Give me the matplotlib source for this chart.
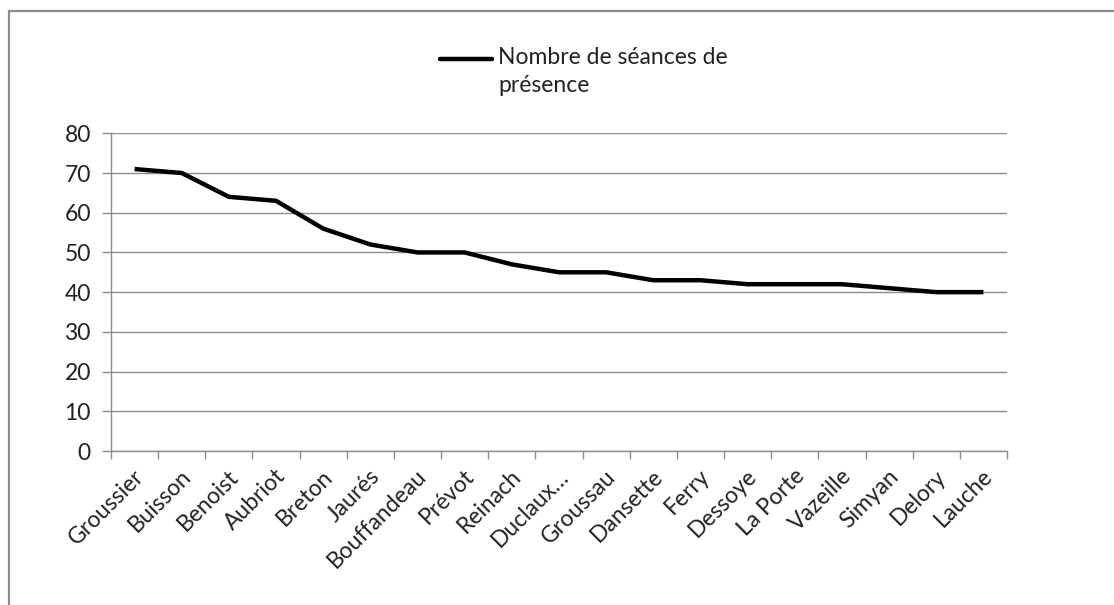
import matplotlib
matplotlib.use("Agg")
import matplotlib.pyplot as plt
import matplotlib.transforms as mtransforms
from matplotlib.lines import Line2D
from matplotlib.patches import Rectangle
import numpy as np

deputes = ["Groussier", "Buisson", "Benoist", "Aubriot", "Breton", "Jaurés",
           "Bouffandeau", "Prévot", "Reinach", "Duclaux…", "Groussau", "Dansette",
           "Ferry", "Dessoye", "La Porte", "Vazeille", "Simyan", "Delory", "Lauche"]
seances = [71, 70, 64, 63, 56, 52, 50, 50, 47, 45, 45, 43, 43, 42, 42, 42, 41, 40, 40]
serie_label = "Nombre de séances de\nprésence"
y_ticks = [0, 10, 20, 30, 40, 50, 60, 70, 80]

W, H, DPI = 1114, 605, 100
GRID = "#8c8c8c"
TEXT = "#222222"
FONT = "Lato"
FS = 16.5

plt.rcParams["font.family"] = [FONT, "DejaVu Sans"]

fig = plt.figure(figsize=(W / DPI, H / DPI), dpi=DPI)
fig.patch.set_facecolor("white")

left, right = 111 / W, 1007 / W
bottom, top = 1 - 451 / H, 1 - 133.3 / H
ax = fig.add_axes([left, bottom, right - left, top - bottom])

x = np.arange(len(deputes))
ax.plot(x, seances, color="black", lw=3.2, solid_joinstyle="round",
        solid_capstyle="butt", zorder=3)

ax.set_xlim(-0.5, len(deputes) - 0.5)
ax.set_ylim(0, 80)

# horizontal gridlines
ax.set_yticks(y_ticks)
ax.yaxis.grid(True, color=GRID, lw=1.0)
ax.set_axisbelow(True)
ax.tick_params(axis="y", direction="out", length=6.5, width=1.0, color=GRID,
               labelsize=FS, labelcolor=TEXT, pad=8)

# category boundaries carry the tick marks, centres carry the labels
ax.set_xticks(np.arange(len(deputes) + 1) - 0.5)
ax.set_xticklabels([])
ax.set_xticks(x, minor=True)
ax.set_xticklabels(deputes, minor=True, rotation=45, ha="right", va="center",
                   rotation_mode="anchor", fontsize=FS, color=TEXT)
ax.tick_params(axis="x", which="major", direction="out", length=5.5, width=1.0,
               color=GRID)
ax.tick_params(axis="x", which="minor", length=0, pad=0)
offset = mtransforms.ScaledTranslation(6 / DPI, -22 / DPI, fig.dpi_scale_trans)
for lab in ax.get_xticklabels(minor=True):
    lab.set_transform(lab.get_transform() + offset)

for side in ("top", "right"):
    ax.spines[side].set_visible(False)
for side in ("left", "bottom"):
    ax.spines[side].set_color(GRID)
    ax.spines[side].set_linewidth(1.0)

# legend drawn above the plot area
fig.add_artist(Line2D([440 / W, 492 / W], [1 - 59 / H, 1 - 59 / H],
                      transform=fig.transFigure, color="black", lw=3.2,
                      solid_capstyle="round"))
fig.text(498 / W, 1 - 47 / H, serie_label, ha="left", va="top",
         fontsize=FS, color=TEXT, linespacing=1.4)

# chart frame
fig.add_artist(Rectangle((9 / W, -0.2), 1.5, 1.2 - 11 / H,
                         transform=fig.transFigure, fill=False,
                         ec=GRID, lw=1.6))

fig.savefig("out.png", dpi=DPI, facecolor="white")
